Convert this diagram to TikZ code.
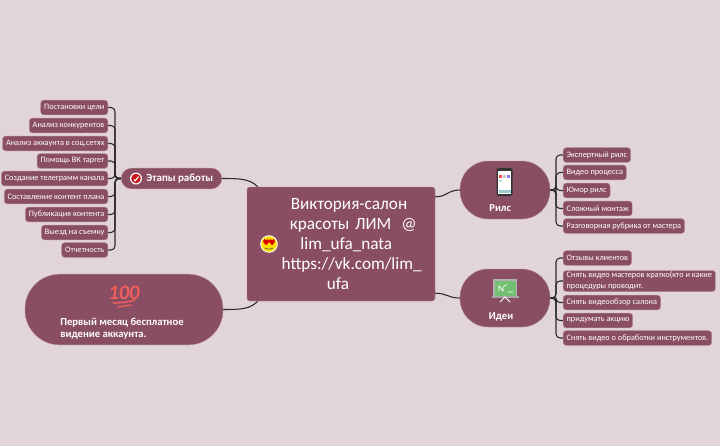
\documentclass[tikz,border=0pt]{standalone}
\usepackage{fontspec}
\usetikzlibrary{backgrounds}
\setmainfont{Carlito}
\definecolor{bgc}{HTML}{E2D5D9}
\definecolor{nodec}{HTML}{8A4E64}
\definecolor{edgec}{HTML}{B58C9B}
\definecolor{linec}{HTML}{2B2B2B}
\definecolor{hundredc}{HTML}{EE5F5B}
\tikzset{
  leaf/.style={fill=nodec,draw=edgec,line width=0.3pt,rounded corners=2.2pt,text=white,font=\fontsize{6.2pt}{8.2pt}\selectfont,inner xsep=2.6pt,inner ysep=0pt,minimum height=11pt,align=left},
  leafr/.style={leaf,anchor=west},
  leafl/.style={leaf,anchor=east},
  branch/.style={fill=nodec,draw=edgec,line width=0.3pt,inner sep=0pt,text=white},
  biglabel/.style={text=white,font=\fontsize{8pt}{9.5pt}\selectfont\bfseries,inner sep=0pt,align=left},
  conn/.style={draw=linec,line width=0.8pt},
  tree/.style={draw=linec,line width=0.8pt,rounded corners=3pt}
}
\begin{document}
\begin{tikzpicture}[x=0.75pt,y=-0.75pt]
\useasboundingbox (0,0) rectangle (720,446);
% central
\node[branch,rounded corners=2pt,minimum width=141pt,minimum height=85.5pt,text width=141pt,align=center,
      font=\fontsize{12.9pt}{15pt}\selectfont] (center) at (341,244)
 {\hspace*{12pt}Виктория-салон\\\hspace*{18.5pt}красоты ЛИМ\hspace{7.5pt}@\\\hspace*{8pt}lim\_ufa\_nata\\\hspace*{16pt}https://vk.com/lim\_\\ufa\hspace*{4.5pt}};
% branches
\node[branch,rounded corners=7.8pt,minimum width=75.5pt,minimum height=15.5pt,
      label={[biglabel,font=\fontsize{8.2pt}{10pt}\selectfont\bfseries,xshift=6.2pt]center:Этапы работы}] (etapy) at (171.5,178.5) {};
\node[branch,rounded corners=21pt,minimum width=67.5pt,minimum height=43.5pt,
      label={[biglabel,xshift=-3.6pt,yshift=-13.5pt]center:Рилс}] (rils) at (505,190) {};
\node[branch,rounded corners=21pt,minimum width=67.5pt,minimum height=43.5pt,
      label={[biglabel,xshift=-3pt,yshift=-14.3pt]center:Идеи}] (idei) at (505,298) {};
\node[branch,rounded corners=26pt,minimum width=148.5pt,minimum height=53pt,
      label={[biglabel,xshift=-1.5pt,yshift=-14.5pt]center:Первый месяц бесплатное\\видение аккаунта.}] (first) at (124,309.5) {};
% left leaves
\node[leafl] (a1) at (108,107.5) {Постановки цели};
\node[leafl] (a2) at (108,125.5) {Анализ конкурентов};
\node[leafl] (a3) at (108,143.5) {Анализ аккаунта в соц.сетях};
\node[leafl] (a4) at (108,161) {Помощь ВК таргет};
\node[leafl] (a5) at (108,178.5) {Создание телеграмм канала};
\node[leafl] (a6) at (108,196.5) {Составление контент плана};
\node[leafl] (a7) at (108,214.5) {Публикация контента};
\node[leafl] (a8) at (108,232.5) {Выезд на съемку};
\node[leafl] (a9) at (108,250) {Отчетность};
% rils leaves
\node[leafr] (b1) at (563,155) {Экспертный рилс};
\node[leafr] (b2) at (563,172.5) {Видео процесса};
\node[leafr] (b3) at (563,190.5) {Юмор рилс};
\node[leafr] (b4) at (563,208.5) {Сложный монтаж};
\node[leafr] (b5) at (563,226) {Разговорная рубрика от мастера};
% idei leaves
\node[leafr] (c1) at (563,258) {Отзывы клиентов};
\node[leafr,inner ysep=1pt] (c2) at (563,281) {Снять видео мастеров кратко(кто и какие\\процедуры проводит.};
\node[leafr] (c3) at (563,302.5) {Снять видеообзор салона};
\node[leafr] (c4) at (563,320.5) {придумать акцию};
\node[leafr] (c5) at (563,338) {Снять видео о обработки инструментов.};
% trunk coordinates
\coordinate (tl) at (115,178.5);
\coordinate (tr) at (556,190);
\coordinate (ti) at (556,298);
\coordinate (e1) at (center.north west);
\coordinate (e2) at (center.north east);
\coordinate (e3) at (center.south east);
\coordinate (e4) at (center.south west);
\begin{scope}[on background layer]
\fill[bgc] (0,0) rectangle (720,446);
\foreach \n in {a1,a2,a3,a4,a5,a6,a7,a8,a9}
  \draw[tree] (etapy.west) -- (tl) |- (\n.east);
\foreach \n in {b1,b2,b3,b4,b5}
  \draw[tree] (rils.east) -- (tr) |- (\n.west);
\foreach \n in {c1,c2,c3,c4,c5}
  \draw[tree] (idei.east) -- (ti) |- (\n.west);
\draw[conn] (etapy.east) .. controls +(18,0) and +(-8,-8) .. ([shift={(11,0)}]e1);
\draw[conn] (first.east) .. controls +(18,0) and +(-8,8) .. ([shift={(11,0)}]e4);
\draw[conn] (rils.west) .. controls +(-12,0) and +(12,0) .. ([shift={(0,10)}]e2);
\draw[conn] (idei.west) .. controls +(-12,0) and +(12,0) .. ([shift={(0,-8)}]e3);
\end{scope}
% emoji: heart eyes
\fill[white] (269,244) circle (8.8);
\fill[yellow!80!orange] (269,244) circle (7.8);
\fill[red!85!black] (263,241.2) .. controls (263,238.4) and (266,238.4) .. (266.3,240.3) .. controls (266.6,238.4) and (269.4,238.4) .. (269.2,241.2) .. controls (269,243) and (267,244) .. (266.3,245.2) .. controls (265.4,244) and (263.2,243) .. (263,241.2) -- cycle;
\fill[red!85!black] (268.8,241.2) .. controls (268.8,238.4) and (271.8,238.4) .. (272.1,240.3) .. controls (272.4,238.4) and (275.2,238.4) .. (275,241.2) .. controls (274.8,243) and (272.8,244) .. (272.1,245.2) .. controls (271.2,244) and (269,243) .. (268.8,241.2) -- cycle;
\draw[black!70,line width=0.5pt] (265,248) .. controls (267,249.5) and (271,249.5) .. (273,248);
% etapy icon
\fill[white] (136,178.5) circle (6);
\fill[red!75!black!90] (136,178.5) circle (4.8);
\draw[white,line width=0.8pt] (134,179.5) -- (135.3,180.8) -- (138.5,176.6);
% phone icon
\fill[black!80,rounded corners=1.2pt] (496.5,168) rectangle (512.5,196);
\fill[white] (497.8,170.5) rectangle (511.2,194.2);
\fill[red!70] (499,175) rectangle (502,178);
\fill[black!20] (503.2,175) rectangle (506.2,178);
\fill[blue!50] (507.4,175) rectangle (510.4,178);
\fill[teal!25] (499,179.5) rectangle (502,182);
\fill[teal!40] (499,190) rectangle (510.6,193);
% board icon
\fill[black!30] (493,279) rectangle (517,298);
\fill[green!55!black!55!white] (494.5,280.5) rectangle (515.5,296);
\draw[white,line width=0.5pt] (499,291) -- (499,286) -- (503,291) -- (503,286) (504,286) -- (507,284.5) (508,292) -- (513,292);
\fill[black!35] (492,295.5) rectangle (519,298);
\draw[white,line width=0.7pt] (500,302) -- (505,297) -- (510,302);
% hundred icon
\node[text=hundredc,font=\fontsize{15.5pt}{15.5pt}\selectfont\bfseries\itshape,inner sep=0pt] (hundred) at (124,292.5) {100};
\draw[hundredc,line width=1.1pt,line cap=round] (113,303) .. controls (120,303) and (128,302) .. (135,300);
\draw[hundredc,line width=1pt,line cap=round] (118,307) -- (131,305);
\end{tikzpicture}
\end{document}
